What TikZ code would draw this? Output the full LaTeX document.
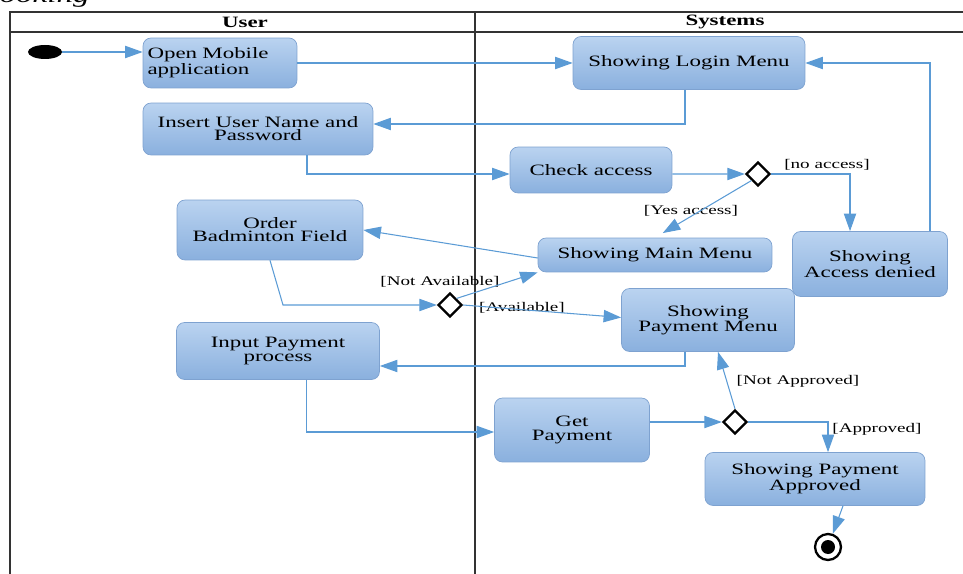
\documentclass[tikz,border=0pt]{standalone}
\usepackage{fontspec}
\setmainfont{Liberation Serif}[FakeStretch=1.45]
\usepackage{tikz}
\usetikzlibrary{shapes.geometric}
\usetikzlibrary{arrows.meta}
\usetikzlibrary{calc}

\definecolor{flowblue}{RGB}{91,155,213}
\definecolor{boxtop}{RGB}{186,211,240}
\definecolor{boxbottom}{RGB}{138,176,222}
\definecolor{boxline}{RGB}{126,162,208}

\begin{document}
\begin{tikzpicture}[x=0.02cm, y=-0.02cm,
		act/.style={draw=boxline, rounded corners=0.16cm, top color=boxtop, bottom color=boxbottom, align=center, font=\fontsize{9}{7.5}\selectfont, inner sep=1pt},
		choice/.style={diamond, draw=black, line width=1.3pt, fill=white, minimum size=0.48cm, inner sep=0pt},
		flow/.style={draw=flowblue, line width=0.6pt, -{Triangle[length=10pt, width=7pt]}},
		guard/.style={font=\fontsize{7.5}{8}\selectfont, inner sep=0pt},
		lane/.style={draw=black!80, line width=1pt}]
		\useasboundingbox (0,0) rectangle (963,574);
		% swimlanes
		\node[anchor=base east, font=\itshape\fontsize{13}{13}\selectfont, inner sep=0pt] (title) at (90,3) {Booking};
		\draw[lane] (10,574) -- (10,12) -- (963,12);
		\draw[lane] (10,32) -- (963,32);
		\draw[lane] (475,12) -- (475,574);
		\node[font=\bfseries\fontsize{9}{9}\selectfont] (usr) at (245,22) {User};
		\node[font=\bfseries\fontsize{9}{9}\selectfont] (sys) at (725,22) {Systems};
		% activities
		\node[ellipse, fill=black, minimum width=0.68cm, minimum height=0.28cm, inner sep=0pt] (start) at (45,52) {};
		\node[act, minimum width=3.08cm, minimum height=1cm, text width=2.9cm, align=left] (open) at (220,63) {Open Mobile\\application};
		\node[act, minimum width=4.6cm, minimum height=1.04cm] (insert) at (258,129) {Insert User Name and\\Password};
		\node[act, minimum width=4.64cm, minimum height=1.06cm] (login) at (689,63) {Showing Login Menu};
		\node[act, minimum width=3.24cm, minimum height=0.92cm] (check) at (591,170) {Check access};
		\node[choice] (d1) at (758,174) {};
		\node[act, minimum width=3.1cm, minimum height=1.3cm] (denied) at (870,264) {Showing\\Access denied};
		\node[act, minimum width=3.72cm, minimum height=1.2cm] (order) at (270,230) {Order\\Badminton Field};
		\node[act, minimum width=4.68cm, minimum height=0.68cm] (mainmenu) at (655,255) {Showing Main Menu};
		\node[choice] (d2) at (450,305) {};
		\node[act, minimum width=3.46cm, minimum height=1.26cm] (paymenu) at (708,320) {Showing\\Payment Menu};
		\node[act, minimum width=4.06cm, minimum height=1.14cm] (inputpay) at (278,351) {Input Payment\\process};
		\node[act, minimum width=3.1cm, minimum height=1.28cm] (getpay) at (572,430) {Get\\Payment};
		\node[choice] (d3) at (735,422) {};
		\node[act, minimum width=4.4cm, minimum height=1.06cm] (approved) at (815,479) {Showing Payment\\Approved};
		\node[circle, draw=black, line width=1.3pt, minimum size=0.52cm, inner sep=0pt] (endpt) at (828,547) {};
		\fill[black] (endpt) circle (0.14cm);
		% guards
		\node[guard] (noacc) at (827,165) {[no access]};
		\node[guard] (yesacc) at (691,211) {[Yes access]};
		\node[guard] (notavail) at (440,282) {[Not Available]};
		\node[guard] (avail) at (522,308) {[Available]};
		\node[guard] (notappr) at (798,381) {[Not Approved]};
		\node[guard] (appr) at (877,429) {[Approved]};
		% flows
		\draw[flow] (start) -- (start -| open.west);
		\draw[flow] (open.east) -- (login.west);
		\draw[flow] ([xshift=-0.08cm]login.south) |- ([yshift=0.1cm]insert.east);
		\draw[flow] ([xshift=0.98cm]insert.south) |- ([yshift=-0.08cm]check.west);
		\draw[flow] ([yshift=-0.08cm]check.east) -- (d1.west);
		\draw[flow] (d1.east) -| ([xshift=-0.4cm]denied.north);
		\draw[flow, shorten >=0.18cm] (d1.south west) -- (mainmenu.north);
		\draw[flow] ([xshift=1.2cm]denied.north) |- (login.east);
		\draw[flow] ([yshift=-0.06cm]mainmenu.west) -- (order.east);
		\draw[flow] (order.south) -- ([xshift=0.26cm]order.south |- d2.west) -- (d2.west);
		\draw[flow] (d2.north east) -- (mainmenu.south west);
		\draw[flow] (d2.east) -- ([yshift=0.05cm]paymenu.west);
		\draw[flow] ([xshift=-0.46cm]paymenu.south) |- ([yshift=-0.3cm]inputpay.east);
		\draw[flow] ([xshift=0.57cm]inputpay.south) |- ([yshift=-0.04cm]getpay.west);
		\draw[flow] (getpay.east |- d3.west) -- (d3.west);
		\draw[flow] (d3.north) -- ([xshift=0.2cm]paymenu.south);
		\draw[flow] (d3.east) -| ([xshift=0.26cm]approved.north);
		\draw[flow] ([xshift=0.56cm]approved.south) -- (endpt);
	\end{tikzpicture}
\end{document}
